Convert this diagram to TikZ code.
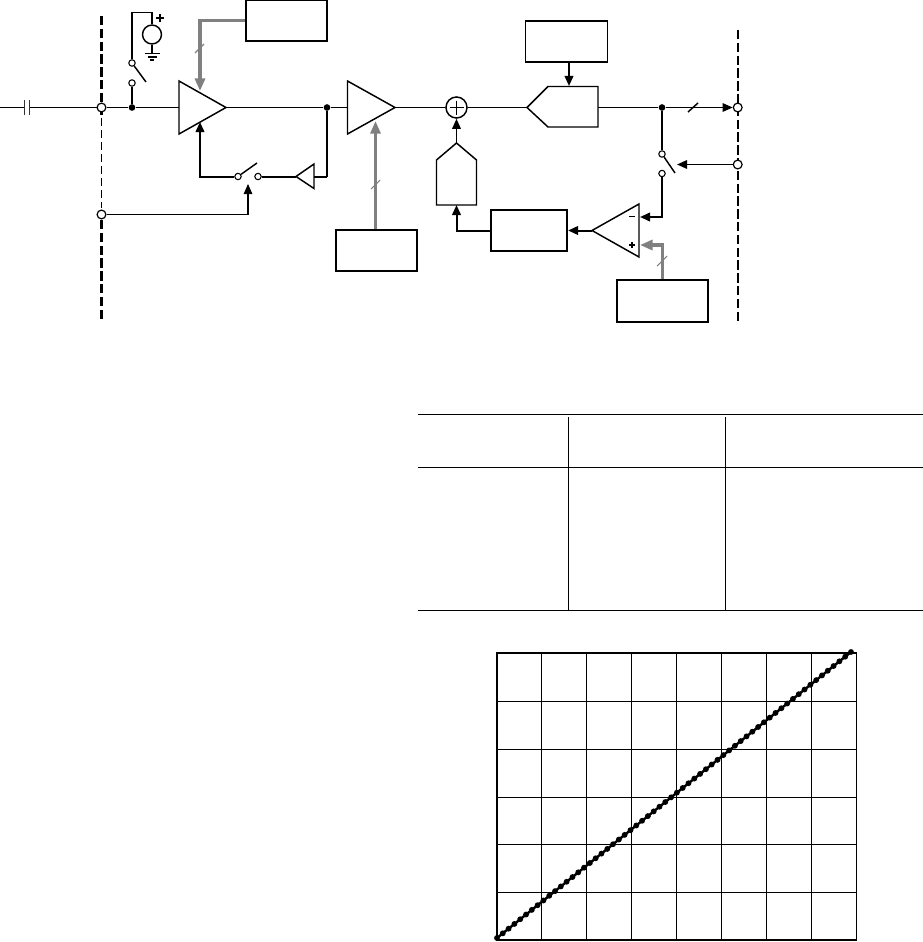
\documentclass[tikz,border=0pt]{standalone}
\usetikzlibrary{arrows.meta}
\tikzset{
  x=0.75pt,y=-0.75pt,
  thin line/.style={line width=0.8pt,black},
  med line/.style={line width=1.1pt,black},
  grid line/.style={line width=0.8pt,black},
  bold line/.style={line width=1.5pt,black},
  gray line/.style={line width=2.6pt,black!50},
  bound thick/.style={line width=1.7pt,dash pattern=on 7pt off 2.6pt},
  blockbox/.style 2 args={draw,fill=white,line width=1.1pt,minimum width=#1*0.75pt,minimum height=#2*0.75pt,inner sep=0pt},
  port/.style={circle,draw,fill=white,line width=0.9pt,minimum size=6.6pt,inner sep=0pt},
  pin/.style={circle,draw,fill=white,line width=0.8pt,minimum size=4.8pt,inner sep=0pt},
  joint/.style={circle,fill=black,minimum size=5pt,inner sep=0pt},
  tip/.style={-{Triangle[length=7.5pt,width=6.4pt]}},
  graytip/.style={-{Triangle[length=9.5pt,width=7.5pt]}},
  plotdot/.style={circle,fill=black,minimum size=4.4pt,inner sep=0pt},
}
\begin{document}
\begin{tikzpicture}
\useasboundingbox (0,0) rectangle (923,942);
% boundary lines
\coordinate (LT) at (101.5,16); \coordinate (LA) at (101.5,118);
\coordinate (LM2) at (101.5,208); \coordinate (LC) at (101.5,220);
\coordinate (LB) at (101.5,319);
\draw[bound thick] (LT) -- (LA);
\draw[thin line,dash pattern=on 6pt off 3pt] (LA) -- (LM2);
\draw[bound thick] (LC) -- (LB);
\coordinate (RT) at (737.7,30); \coordinate (RB) at (737.7,322);
\draw[bound thick] (RT) -- (RB);
% nodes
\node[port] (pinA) at (101.5,107.5) {};
\node[port] (pinB) at (101.5,214.5) {};
\node[port] (pinC) at (737.7,107.5) {};
\node[port] (pinD) at (737.7,164.5) {};
\node[joint] (j1) at (132,107.5) {};
\node[joint] (j2) at (327,107.5) {};
\node[joint] (j3) at (662,107.5) {};
\node[blockbox={81}{41}] (box1) at (286.5,20.5) {};
\node[blockbox={81.5}{41}] (box2) at (566.5,41.5) {};
\node[blockbox={81}{41}] (box3) at (376.5,250.5) {};
\node[blockbox={76}{41},line width=1.6pt] (box4) at (529,230.5) {};
\node[blockbox={91}{41.5},line width=1.4pt] (box5) at (662.5,301) {};
% input capacitor
\coordinate (in) at (0,107.5);
\coordinate (c1) at (24.5,107.5); \coordinate (c2) at (29.5,107.5);
\draw[thin line] (in) -- (c1) (c2) -- (pinA);
\draw[line width=1.2pt,black!80] (24.5,100) -- (24.5,115) (29.5,100) -- (29.5,115);
\coordinate (a1in) at (179,107.5);
\draw[thin line] (pinA) -- (j1) -- (a1in);
% amp 1
\coordinate (a1out) at (226,107.5);
\draw[med line] (179,81) -- (a1out) -- (179,134) -- cycle;
\coordinate (a1top) at (200,91); \coordinate (a1bot) at (200,122);
\coordinate (a2in) at (347.5,107.5); \coordinate (a2out) at (395,107.5);
\draw[thin line] (a1out) -- (j2) -- (a2in);
\draw[med line] (347.5,81) -- (a2out) -- (347.5,134) -- cycle;
\coordinate (a2bot) at (375.5,121);
% top bias switch
\node[pin] (s1a) at (132,63) {};
\node[pin] (s1b) at (132,83) {};
\coordinate (s1arm) at (146,82);
\draw[med line] (s1a) -- (s1arm);
\draw[bold line] (j1) -- (s1b);
\node[circle,draw,line width=1.1pt,minimum size=14.2pt,inner sep=0pt] (vs) at (152,34.5) {};
\coordinate (gnd) at (152,53);
\draw[med line] (s1a) -- (132,12.5) -- (152,12.5) -- (vs);
\draw[med line] (vs) -- (gnd);
\draw[med line] (144.5,53.5) -- (159.5,53.5) (147.5,56.8) -- (156.5,56.8) (150,60) -- (154,60);
\draw[line width=0.9pt] (160,14) -- (160,22) (156,18) -- (164,18);
% gain control 1
\draw[gray line,graytip] (box1.west) -| (a1top);
\draw[black!50,line width=0.8pt] (195,53) -- (204,44);
% feedback switch
\node[pin] (s2a) at (238,176.5) {};
\node[pin] (s2b) at (258,176.5) {};
\coordinate (s2arm) at (257,163);
\draw[med line] (s2a) -- (s2arm);
\draw[bold line,tip] (s2a) -| (a1bot);
\coordinate (bufL) at (296,176.5); \coordinate (bufR) at (314,176.5);
\draw[med line] (bufL) -- (314,164) -- (314,188.5) -- cycle;
\draw[bold line] (s2b) -- (bufL);
\draw[bold line] (bufR) -- (327,176.5);
\draw[med line] (327,176.5) -- (j2);
\coordinate (s2ctl) at (248,184);
\draw[thin line,tip] (pinB) -| (s2ctl);
% gain control 2
\draw[gray line,graytip] (box3.north -| a2bot) -- (a2bot);
\draw[black!50,line width=0.8pt] (371,189) -- (380,180);
% summer
\node[circle,draw,line width=1.1pt,minimum size=15.8pt,inner sep=0pt] (sum) at (456.5,107.5) {};
\draw[line width=0.8pt] (449.5,107.5) -- (463.5,107.5) (456.5,100.5) -- (456.5,114.5);
\draw[thin line] (a2out) -- (sum);
% ADC
\coordinate (adcL) at (527,107.5); \coordinate (adcR) at (598,107.5);
\draw[med line] (adcL) -- (548,86.5) -- (598,86.5) -- (598,127) -- (548,127) -- cycle;
\draw[thin line] (sum) -- (adcL);
\coordinate (adcT) at (569,86);
\draw[bold line,tip] (box2.south -| adcT) -- (adcT);
% output
\draw[thin line] (adcR) -- (j3);
\draw[thin line,tip] (j3) -- (pinC);
\draw[med line] (688,112) -- (698,103);
% output switch
\node[pin] (s3a) at (662,154) {};
\node[pin] (s3b) at (662,173.5) {};
\coordinate (s3arm) at (675,173);
\draw[med line] (s3a) -- (s3arm);
\draw[bold line] (j3) -- (s3a);
\coordinate (s3ctl) at (677,164.5);
\draw[med line,tip] (pinD) -- (s3ctl);
% comparator
\coordinate (cmpL) at (592,230.5);
\coordinate (cmpM) at (640,217); \coordinate (cmpP) at (640,245);
\draw[med line] (cmpL) -- (639,204) -- (639,257) -- cycle;
\draw[line width=0.9pt] (629,216.5) -- (635,216.5) (629,245) -- (635,245) (632,242) -- (632,248);
\draw[bold line,tip] (s3b) |- (cmpM);
\draw[gray line,graytip] (box5.north) |- (cmpP);
\draw[black!50,line width=0.8pt] (657,266) -- (667,256);
\draw[bold line,tip] (cmpL) -- (box4.east);
% DAC
\coordinate (dacT) at (456.5,143); \coordinate (dacB) at (456.5,205);
\draw[med line] (dacT) -- (476.5,160) -- (476.5,205) -- (436.5,205) -- (436.5,160) -- cycle;
\draw[bold line,tip] (box4.west) -| (dacB);
\draw[med line,tip] (dacT) -- (sum);
% table
\coordinate (t1) at (418,414.5); \coordinate (t1e) at (923,414.5);
\coordinate (t2) at (418,467.5); \coordinate (t2e) at (923,467.5);
\coordinate (t3) at (418,610.5); \coordinate (t3e) at (923,610.5);
\draw[grid line] (t1) -- (t1e) (t2) -- (t2e) (t3) -- (t3e);
\coordinate (v1) at (568.5,417); \coordinate (v1e) at (568.5,610.5);
\coordinate (v2) at (725.5,417); \coordinate (v2e) at (725.5,610.5);
\draw[grid line] (v1) -- (v1e) (v2) -- (v2e);
% plot
\foreach \xx in {541.5,586.5,631.5,676.5,721.5,766.5,811.5,856.5}
  \draw[grid line] (\xx,653) -- (\xx,940);
\foreach \yy in {701.5,749.5,797.5,844.5,892.5}
  \draw[grid line] (497,\yy) -- (856,\yy);
\draw[line width=1.6pt] (856.5,653) -- (497,653) -- (497,940) -- (856.5,940);
\coordinate (dstart) at (497,938); \coordinate (dend) at (851,652);
\draw[line width=1.8pt] (dstart) -- (dend);
\foreach \i in {0,...,61}
  \node[plotdot] (d\i) at ({497+\i*5.803},{938-\i*4.689}) {};
\end{tikzpicture}
\end{document}
